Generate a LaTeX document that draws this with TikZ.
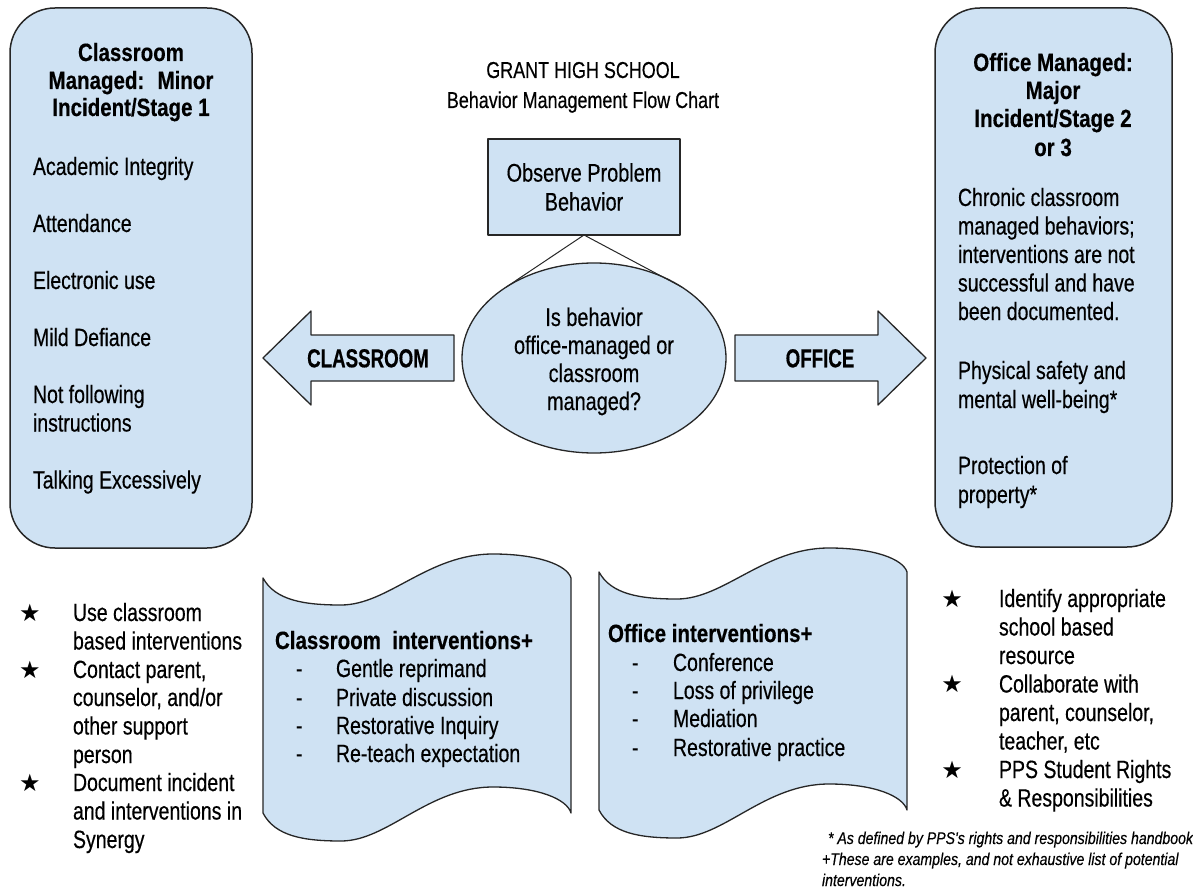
\documentclass[tikz,border=0pt]{standalone}
\usepackage{fontspec}
\setmainfont{Liberation Sans}[FakeStretch=0.78, FakeBold=0.4]
\newfontfamily\headfont{Liberation Sans}[FakeStretch=0.82, FakeBold=0.4]
\newfontfamily\arrowfont{Liberation Sans}[FakeStretch=0.72, FakeBold=0.4]
\newfontfamily\notefont{Liberation Sans}[FakeStretch=0.83, FakeBold=0.3]
\newfontfamily\starfont{DejaVu Sans}
\usetikzlibrary{shapes.geometric}
\definecolor{boxfill}{HTML}{CFE2F3}
\definecolor{edgecol}{HTML}{262626}
% punched-tape ("scroll") outline: #1 left x, #2 top line, #3 bottom line
\newcommand{\tapeshape}[3]{%
  \draw[shapefill] (#1,#2)
    .. controls ({#1+12},{#2+22}) and ({#1+40},{#2+27}) .. ({#1+78},{#2+27})
    .. controls ({#1+125},{#2+27}) and ({#1+165},{#2-24}) .. ({#1+230},{#2-24})
    .. controls ({#1+275},{#2-24}) and ({#1+304},{#2-13}) .. ({#1+308},{#2})
    -- ({#1+308},{#3})
    .. controls ({#1+304},{#3-14}) and ({#1+275},{#3-26}) .. ({#1+230},{#3-26})
    .. controls ({#1+165},{#3-26}) and ({#1+125},{#3+28}) .. ({#1+78},{#3+28})
    .. controls ({#1+40},{#3+28}) and ({#1+12},{#3+23}) .. (#1,#3)
    -- cycle;}
\begin{document}
\begin{tikzpicture}[x=1pt,y=-1pt,
  every node/.style={inner sep=0pt, outer sep=0pt, text=black},
  reg/.style={font=\fontsize{25}{28.5}\selectfont},
  regl/.style={reg, anchor=base west},
  hd/.style={font=\headfont\fontsize{25}{28.5}\selectfont\bfseries, anchor=base},
  hdl/.style={hd, anchor=base west},
  arrowlabel/.style={font=\arrowfont\fontsize{26}{28}\selectfont\bfseries, anchor=base},
  mid/.style={font=\fontsize{25.5}{29}\selectfont, anchor=base},
  ttl/.style={font=\fontsize{23}{30}\selectfont, anchor=base},
  note/.style={font=\notefont\fontsize{17}{21}\selectfont\itshape, anchor=base west},
  star/.style={font=\starfont\fontsize{24}{24}\selectfont, anchor=base},
  shapefill/.style={draw=edgecol, fill=boxfill, line width=1.3pt, line join=round},
  roundbox/.style={shapefill, line width=1.5pt, rounded corners=45pt},
  link/.style={draw=edgecol, line width=1pt}]

\useasboundingbox[fill=white] (0,0) rectangle (1193,890);

% side boxes
\node[roundbox, minimum width=242pt, minimum height=540pt] (lbox) at (131,278) {};
\node[roundbox, minimum width=237pt, minimum height=539pt] (rbox) at (1053.5,277.5) {};

% block arrows
\draw[shapefill] (263,358) -- (311,311) -- (311,335) -- (454,335) -- (454,381) -- (311,381) -- (311,405) -- cycle;
\draw[shapefill] (926,358) -- (878,311) -- (878,335) -- (735,335) -- (735,381) -- (878,381) -- (878,405) -- cycle;

% scrolls
\tapeshape{263}{578}{813}
\tapeshape{599}{572}{810}

% centre flow
\node[shapefill, minimum width=192pt, minimum height=96pt, align=center,
      font=\fontsize{25.5}{29}\selectfont] (obs) at (584,187) {Observe Problem\\Behavior};
\node[shapefill, ellipse, minimum width=264pt, minimum height=190pt] (q) at (594,358) {};
\draw[link] (obs.south) -- (q.141);
\draw[link] (obs.south) -- (q.39);

% title
\node[ttl] (t1) at (583,78) {GRANT HIGH SCHOOL};
\node[ttl] (t2) at (583,108) {Behavior Management Flow Chart};

% ellipse text
\node[mid] (q1) at (594,326) {Is behavior};
\node[mid] (q2) at (594,354) {office-managed or};
\node[mid] (q3) at (594,382) {classroom};
\node[mid] (q4) at (594,410) {managed?};

% arrow labels
\node[arrowlabel] (ca) at (368,367.3) {CLASSROOM};
\node[arrowlabel] (oa) at (820,367.3) {OFFICE};

% left box
\node[hd] (lh1) at (131,61) {Classroom};
\node[hd] (lh2) at (131,89) {Managed:~ Minor};
\node[hd] (lh3) at (131,116) {Incident/Stage 1};
\node[regl] (l1) at (33,175) {Academic Integrity};
\node[regl] (l2) at (33,232) {Attendance};
\node[regl] (l3) at (33,289) {Electronic use};
\node[regl] (l4) at (33,346) {Mild Defiance};
\node[regl] (l5) at (33,403) {Not following};
\node[regl] (l6) at (33,431.5) {instructions};
\node[regl] (l7) at (33,488.5) {Talking Excessively};

% right box
\node[hd] (rh1) at (1053,71) {Office Managed:};
\node[hd] (rh2) at (1053,99) {Major};
\node[hd] (rh3) at (1053,127) {Incident/Stage 2};
\node[hd] (rh4) at (1053,156) {or 3};
\node[regl] (r1) at (958,206) {Chronic classroom};
\node[regl] (r2) at (958,234.5) {managed behaviors;};
\node[regl] (r3) at (958,263) {interventions are not};
\node[regl] (r4) at (958,291.5) {successful and have};
\node[regl] (r5) at (958,320) {been documented.};
\node[regl] (r6) at (958,379) {Physical safety and};
\node[regl] (r7) at (958,408) {mental well-being*};
\node[regl] (r8) at (958,474) {Protection of};
\node[regl] (r9) at (958,503) {property*};

% left scroll text
\node[hdl] (ch) at (275,649) {Classroom~ interventions+};
\node[regl] (cd1) at (296,677) {-};
\node[regl] (cd2) at (296,706) {-};
\node[regl] (cd3) at (296,734) {-};
\node[regl] (cd4) at (296,762) {-};
\node[regl] (c1) at (336,677) {Gentle reprimand};
\node[regl] (c2) at (336,706) {Private discussion};
\node[regl] (c3) at (336,734) {Restorative Inquiry};
\node[regl] (c4) at (336,762) {Re-teach expectation};

% right scroll text
\node[hdl] (oh) at (608,642) {Office interventions+};
\node[regl] (od1) at (632,671) {-};
\node[regl] (od2) at (632,699) {-};
\node[regl] (od3) at (632,727) {-};
\node[regl] (od4) at (632,756) {-};
\node[regl] (o1) at (673,671) {Conference};
\node[regl] (o2) at (673,699) {Loss of privilege};
\node[regl] (o3) at (673,727) {Mediation};
\node[regl] (o4) at (673,756) {Restorative practice};

% left star list
\node[star] (ls1) at (30,621) {★};
\node[star] (ls2) at (30,678) {★};
\node[star] (ls3) at (30,791) {★};
\node[regl] (s1) at (73,621) {Use classroom};
\node[regl] (s2) at (73,649.5) {based interventions};
\node[regl] (s3) at (73,678) {Contact parent,};
\node[regl] (s4) at (73,706) {counselor, and/or};
\node[regl] (s5) at (73,734.5) {other support};
\node[regl] (s6) at (73,763) {person};
\node[regl] (s7) at (73,791) {Document incident};
\node[regl] (s8) at (73,819.5) {and interventions in};
\node[regl] (s9) at (73,848) {Synergy};

% right star list
\node[star] (rs1) at (952,607) {★};
\node[star] (rs2) at (952,692.5) {★};
\node[star] (rs3) at (952,778) {★};
\node[regl] (p1) at (999,607) {Identify appropriate};
\node[regl] (p2) at (999,635.5) {school based};
\node[regl] (p3) at (999,664) {resource};
\node[regl] (p4) at (999,692.5) {Collaborate with};
\node[regl] (p5) at (999,721) {parent, counselor,};
\node[regl] (p6) at (999,749.5) {teacher, etc};
\node[regl] (p7) at (999,778) {PPS Student Rights};
\node[regl] (p8) at (999,806.5) {\& Responsibilities};

% footnotes
\node[note] (n1) at (828,844) {* As defined by PPS's rights and responsibilities handbook};
\node[note] (n2) at (822,865) {+These are examples, and not exhaustive list of potential};
\node[note] (n3) at (822,886) {interventions.};
\end{tikzpicture}
\end{document}
